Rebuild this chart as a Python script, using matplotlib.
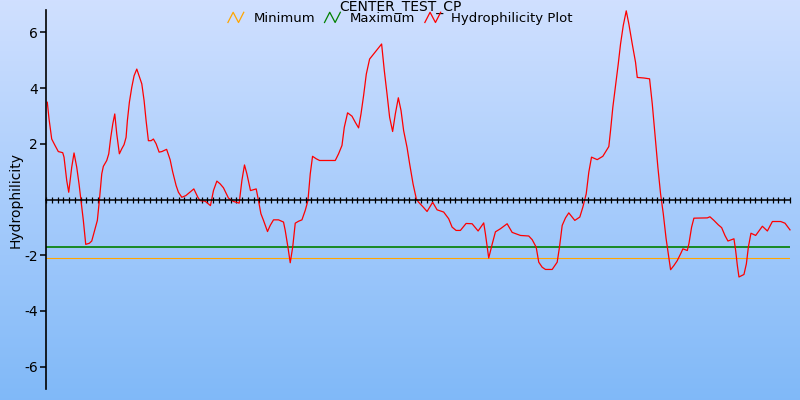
import numpy as np
import matplotlib
matplotlib.use('Agg')
import matplotlib.pyplot as plt
from matplotlib.lines import Line2D
from matplotlib.legend_handler import HandlerBase

# sequence position and hydrophilicity value
position = [
    1.3, 3, 5.7, 9, 12.3, 16.7, 18, 20.7, 22.7, 25.7, 28, 30.7, 33, 35.7, 37.3, 39.7,
    43.3, 45.7, 49, 51.3, 53.3, 55.7, 57.3, 60.7, 62.7, 64.7, 66.7, 68.7, 70.7, 73.3,
    75.7, 78, 80, 81.3, 83.3, 85.7, 88, 90.7, 93, 95.7, 98, 100, 102.3, 105, 107.3,
    110, 113, 115.7, 120.5, 124, 126.5, 130, 132.3, 135.7, 139.7, 147.7, 151.7, 154,
    159, 164.3, 167.3, 170.7, 174, 177.3, 182.3, 187.3, 193, 195.7, 198.3, 200.7,
    204.3, 207.3, 210, 212.3, 214.7, 217.3, 221.3, 224, 227.3, 232.3, 237.3, 239,
    241.7, 244, 246.5, 249, 252.3, 255.7, 259, 261.7, 264, 266.3, 270, 273.3, 289,
    292.3, 295.7, 298, 301.3, 305.7, 309, 312.3, 314.7, 317.3, 320, 323.3, 327.3,
    331.3, 335.3, 338, 340.7, 343.3, 346.3, 349, 352, 354.7, 357.3, 360.7, 363.3,
    366.7, 370, 372.3, 376.3, 380.7, 386.3, 390.7, 397.3, 402.3, 405.7, 409.7, 414,
    419.7, 425.7, 431.7, 437.3, 439, 442.3, 445.7, 449, 454, 460.7, 465.7, 474, 482.3,
    485.7, 489.7, 492.3, 495.7, 499, 505.7, 510.7, 513, 515.7, 519, 522.3, 528.3,
    533.3, 536.3, 539.7, 542.3, 545, 550.7, 556.3, 562.3, 564, 566.3, 569, 571.7, 574,
    576.7, 579.7, 582.3, 585.7, 589, 590.7, 597.3, 603, 605.7, 609, 611.3, 614, 616.7,
    619.5, 621.7, 624, 627.3, 630.7, 634, 636.3, 640.7, 642.3, 645, 647.3, 660.7,
    663.3, 667.3, 671.7, 675, 678.3, 681.3, 685, 687.3, 689, 690.7, 692.3, 697.3,
    699.7, 701.7, 704.3, 709, 715.7, 720.7, 725.7, 734, 738.3, 743.3,
]
hydro = [
    3.49, 2.90, 2.17, 1.94, 1.72, 1.68, 1.52, 0.68, 0.26, 1.16, 1.67, 1.16, 0.56, -0.27,
    -0.75, -1.61, -1.57, -1.49, -1.05, -0.75, -0.04, 0.92, 1.19, 1.40, 1.64, 2.23, 2.71,
    3.07, 2.35, 1.64, 1.82, 1.97, 2.23, 2.83, 3.49, 4.03, 4.44, 4.68, 4.44, 4.15, 3.55,
    2.83, 2.11, 2.11, 2.17, 2.00, 1.70, 1.72, 1.80, 1.43, 1.00, 0.50, 0.26, 0.08, 0.14,
    0.38, 0.08, -0.04, -0.06, -0.22, 0.32, 0.66, 0.56, 0.42, 0.05, -0.07, -0.13, 0.68,
    1.24, 0.92, 0.32, 0.35, 0.38, -0.04, -0.51, -0.75, -1.15, -0.93, -0.73, -0.73,
    -0.81, -1.11, -1.71, -2.27, -1.70, -0.85, -0.78, -0.73, -0.39, -0.04, 0.92, 1.55,
    1.46, 1.40, 1.40, 1.64, 1.94, 2.59, 3.11, 2.99, 2.77, 2.57, 3.07, 3.73, 4.50, 5.04,
    5.22, 5.40, 5.58, 4.62, 3.79, 2.95, 2.44, 3.07, 3.65, 3.19, 2.47, 1.87, 1.28, 0.56,
    0.02, -0.10, -0.25, -0.43, -0.10, -0.37, -0.45, -0.69, -0.99, -1.11, -1.11, -0.86,
    -0.87, -1.13, -0.84, -1.23, -2.10, -1.61, -1.16, -1.05, -0.87, -1.18, -1.29, -1.31,
    -1.44, -1.71, -2.25, -2.43, -2.51, -2.51, -2.25, -1.71, -0.93, -0.66, -0.48, -0.75,
    -0.63, -0.28, 0.20, 0.98, 1.52, 1.43, 1.55, 1.90, 2.47, 3.31, 4.09, 4.86, 5.58, 6.24,
    6.77, 6.30, 5.58, 4.92, 4.38, 4.36, 4.33, 3.43, 2.11, 1.16, 0.20, -0.51, -1.40,
    -1.95, -2.52, -2.37, -2.19, -1.95, -1.77, -1.83, -1.59, -0.99, -0.67, -0.66, -0.62,
    -0.75, -0.91, -1.01, -1.29, -1.49, -1.44, -1.41, -1.83, -2.37, -2.78, -2.69, -2.31,
    -1.71, -1.21, -1.29, -0.96, -1.13, -0.79, -0.79, -0.85, -1.09,
]
minimum = -2.09
maximum = -1.70
x_end = 743.3
n_ticks = 129
yticks = [-6, -4, -2, 2, 4, 6]

plt.rcParams['font.family'] = 'DejaVu Sans'
plt.rcParams['axes.unicode_minus'] = False


class ZigZag(HandlerBase):
    # little "/\/" icon like the original legend
    def create_artists(self, legend, orig_handle, xdescent, ydescent,
                       width, height, fontsize, trans):
        xs = np.array([0.0, 0.33, 0.67, 1.0]) * width - xdescent
        ys = np.array([0.1, 0.95, 0.1, 0.95]) * height * 1.3 - ydescent - height * 0.15
        ln = Line2D(xs, ys, color=orig_handle.get_color(), lw=0.9)
        ln.set_transform(trans)
        return [ln]


fig = plt.figure(figsize=(8, 4), dpi=100)

# background gradient over the whole figure
bg = fig.add_axes([0, 0, 1, 1], zorder=-10)
grad = np.linspace(0, 1, 256).reshape(-1, 1)
top = np.array([0.816, 0.878, 1.0])
bot = np.array([0.502, 0.725, 0.973])
img = top[None, None, :] * (1 - grad[:, :, None]) + bot[None, None, :] * grad[:, :, None]
bg.imshow(img, aspect='auto', extent=[0, 1, 0, 1])
bg.axis('off')

ax = fig.add_axes([46 / 800, 11 / 400, 744 / 800, 379 / 400])
ax.patch.set_alpha(0)

l_min = ax.axhline(minimum, color='#ffa500', lw=0.8)
l_max = ax.axhline(maximum, color='#008000', lw=1.2)
l_hyd, = ax.plot(position, hydro, color='#ff0000', lw=0.9, clip_on=False)

ax.set_xlim(0, x_end)
ax.set_ylim(-6.8, 6.8)

ax.spines['top'].set_visible(False)
ax.spines['right'].set_visible(False)
ax.spines['bottom'].set_position(('data', 0))
ax.spines['bottom'].set_linewidth(1.1)
ax.spines['left'].set_linewidth(1.2)

ax.set_xticks(np.linspace(0, x_end, n_ticks + 1))
ax.tick_params(axis='x', direction='inout', length=5, width=0.9, labelbottom=False)
ax.set_yticks(yticks)
ax.tick_params(axis='y', direction='out', length=4, width=1.1, labelsize=10, pad=2)
ax.set_ylabel('Hydrophilicity', fontsize=10)
ax.yaxis.set_label_coords(-0.032, 0.5)

fig.text(0.5, 1.0, 'CENTER_TEST_CP', ha='center', va='top', fontsize=10)
fig.legend([l_min, l_max, l_hyd], ['Minimum', 'Maximum', 'Hydrophilicity Plot'],
           loc='center', bbox_to_anchor=(0.5, 0.953), ncol=3, frameon=False,
           fontsize=9.5, handler_map={Line2D: ZigZag()}, handlelength=1.2,
           columnspacing=0.7, handletextpad=0.75, borderpad=0)

fig.savefig('out.png', dpi=100)
